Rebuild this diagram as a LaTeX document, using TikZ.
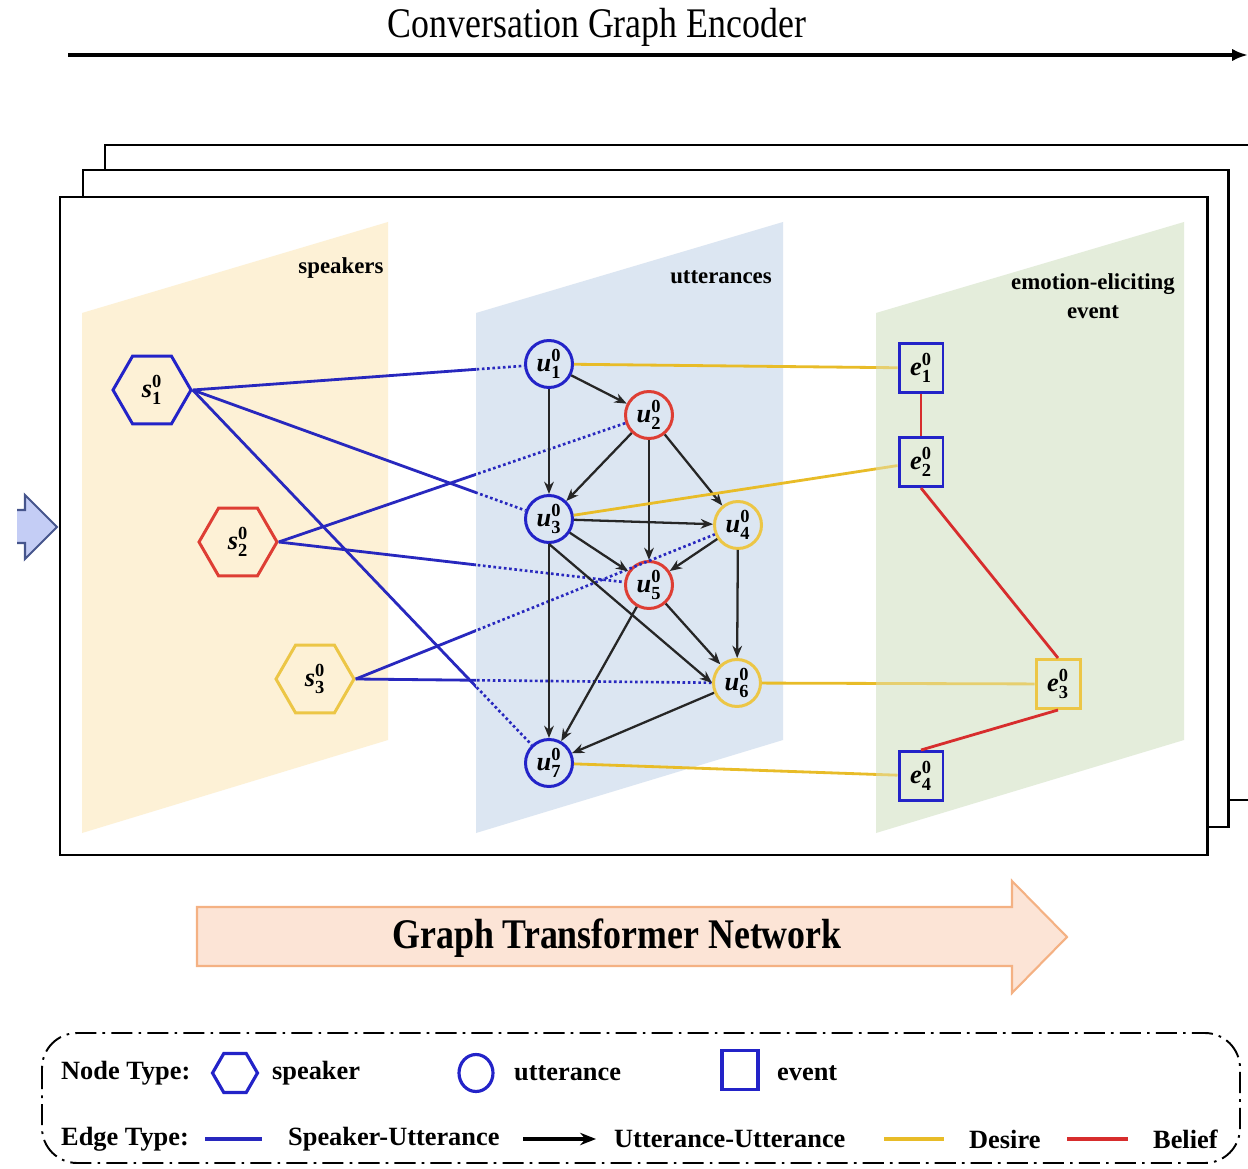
\documentclass[tikz,border=0pt]{standalone}
\usepackage{fontspec}
\setmainfont{Liberation Serif}
\usepackage{amsmath}
\usepackage{graphicx}
\usetikzlibrary{shapes.geometric,arrows.meta}

\definecolor{spkfill}{RGB}{253,241,214}
\definecolor{uttfill}{RGB}{220,230,242}
\definecolor{evtfill}{RGB}{228,237,219}
\definecolor{nblue}{RGB}{35,35,200}
\definecolor{nred}{RGB}{222,62,52}
\definecolor{nyellow}{RGB}{236,198,70}
\definecolor{suline}{RGB}{40,40,190}
\definecolor{desireline}{RGB}{232,188,40}
\definecolor{beliefline}{RGB}{215,45,45}
\definecolor{gtnfill}{RGB}{252,228,214}
\definecolor{gtndraw}{RGB}{244,177,131}
\definecolor{inarrowfill}{RGB}{196,205,245}
\definecolor{inarrowdraw}{RGB}{70,85,140}

% node label: bold italic letter with bold indices
\newcommand{\nodetxt}[2]{$\text{\bfseries\itshape #1}^{\text{\bfseries 0}}_{\text{\bfseries #2}}$}

\tikzset{
  frame/.style={draw=black, fill=white, line width=1.7pt},
  spk/.style={regular polygon, regular polygon sides=6, minimum size=1.56cm,
              inner sep=0pt, line width=1.7pt, draw, font=\fontsize{15}{17}\selectfont},
  utt/.style={circle, minimum size=0.94cm, inner sep=0pt, line width=1.7pt, draw,
              font=\fontsize{15}{17}\selectfont},
  evt/.style={rectangle, minimum width=0.88cm, minimum height=0.98cm, inner sep=0pt,
              line width=1.7pt, draw, font=\fontsize{15}{17}\selectfont},
  panellabel/.style={font=\fontsize{13}{16.5}\selectfont\bfseries, align=center},
  su/.style={suline, line width=1.6pt},
  sudot/.style={suline, line width=1.5pt, dash pattern=on 1.5pt off 1.5pt},
  uu/.style={black!85, line width=1.3pt, -{Stealth[length=7pt,width=5.5pt]}},
  desire/.style={desireline, line width=1.6pt},
  belief/.style={beliefline, line width=1.6pt},
  legtext/.style={anchor=west, font=\fontsize{15}{18}\selectfont\bfseries},
}

\begin{document}
\begin{tikzpicture}[x=0.02cm, y=-0.02cm]
\clip (0,0) rectangle (1248,1169);

% title arrow
\node[font=\fontsize{24}{28}\selectfont] (title) at (597,27)
  {\scalebox{0.85}[1]{Conversation Graph Encoder}};
\coordinate (ta) at (68,55);
\coordinate (tb) at (1248,55);
\draw[line width=1.8pt, -{Latex[length=9pt,width=7pt]}] (ta) -- (tb);

% stacked frames
\draw[frame] (105,145) rectangle (1262,800);
\draw[frame] (83,170) rectangle (1228,827);
\draw[frame] (60,197) rectangle (1207,855);

% incoming arrow on the left
\fill[inarrowfill] (17,510) -- (25,510) -- (25,495) -- (57,527) -- (25,559) -- (25,543) -- (17,543) -- cycle;
\draw[inarrowdraw, line width=1.2pt, line join=miter]
  (17,510) -- (25,510) -- (25,495) -- (57,527) -- (25,559) -- (25,543) -- (17,543);

% slanted panels
\fill[spkfill] (82,313) -- (388,222) -- (388,740) -- (82,833) -- cycle;
\fill[uttfill] (476,313) -- (783,222) -- (783,740) -- (476,833) -- cycle;
\fill[evtfill] (876,313) -- (1184,222) -- (1184,740) -- (876,833) -- cycle;

\node[panellabel] (lblspk) at (341,268) {speakers};
\node[panellabel] (lblutt) at (721,277) {utterances};
\node[panellabel] (lblevt) at (1093,296) {emotion-eliciting\\event};

% speakers
\node[spk, draw=nblue]   (s1) at (152,390) {\nodetxt{s}{1}};
\node[spk, draw=nred]    (s2) at (238,542) {\nodetxt{s}{2}};
\node[spk, draw=nyellow] (s3) at (315,679) {\nodetxt{s}{3}};

% utterances
\node[utt, draw=nblue]   (u1) at (549,364) {\nodetxt{u}{1}};
\node[utt, draw=nred]    (u2) at (649,415) {\nodetxt{u}{2}};
\node[utt, draw=nblue]   (u3) at (549,519) {\nodetxt{u}{3}};
\node[utt, draw=nyellow] (u4) at (738,525) {\nodetxt{u}{4}};
\node[utt, draw=nred]    (u5) at (649,585) {\nodetxt{u}{5}};
\node[utt, draw=nyellow] (u6) at (737,683) {\nodetxt{u}{6}};
\node[utt, draw=nblue]   (u7) at (549,763) {\nodetxt{u}{7}};

% events
\node[evt, draw=nblue]   (e1) at (921,368) {\nodetxt{e}{1}};
\node[evt, draw=nblue]   (e2) at (921,462) {\nodetxt{e}{2}};
\node[evt, draw=nyellow] (e3) at (1058,684) {\nodetxt{e}{3}};
\node[evt, draw=nblue]   (e4) at (921,776) {\nodetxt{e}{4}};

% speaker-utterance edges: solid outside the utterance plane, dotted behind it
\begin{scope}
  \clip (0,0) rectangle (476,1169);
  \foreach \a/\b in {s1/u1, s1/u3, s1/u7, s2/u2, s2/u5, s3/u4, s3/u6}
    \draw[su] (\a.east) -- (\b);
\end{scope}
\begin{scope}
  \clip (476,0) rectangle (1248,1169);
  \foreach \a/\b in {s1/u1, s1/u3, s1/u7, s2/u2, s2/u5, s3/u4, s3/u6}
    \draw[sudot] (\a.east) -- (\b);
\end{scope}

% utterance-utterance edges
\foreach \a/\b in {u1/u2, u1/u3, u2/u3, u2/u4, u2/u5, u3/u4, u3/u5, u3/u7,
                   u4/u5, u4/u6, u5/u6, u5/u7, u6/u7}
  \draw[uu] (\a) -- (\b);
\draw[uu] (u3.south) -- (u6.west);

% desire edges, paler inside the event plane
\begin{scope}
  \clip (0,0) rectangle (876,1169);
  \foreach \a/\b in {u1/e1, u3/e2, u6/e3, u7/e4}
    \draw[desire] (\a) -- (\b);
\end{scope}
\begin{scope}
  \clip (876,0) rectangle (1248,1169);
  \foreach \a/\b in {u1/e1, u3/e2, u6/e3, u7/e4}
    \draw[desire, draw opacity=0.6] (\a) -- (\b);
\end{scope}

% belief edges
\draw[belief] (e1.south) -- (e2.north);
\draw[belief] (e2.south) -- (e3.north);
\draw[belief] (e3.south) -- (e4.north);

% graph transformer network arrow
\draw[fill=gtnfill, draw=gtndraw, line width=1.2pt, line join=miter]
  (197,907) -- (1012,907) -- (1012,881) -- (1067,937) -- (1012,993) -- (1012,966) -- (197,966) -- cycle;
\node[font=\fontsize{24}{28}\selectfont\bfseries] (gtn) at (617,938)
  {\scalebox{0.85}[1]{Graph Transformer Network}};

% legend
\draw[line width=1.1pt, rounded corners=20pt,
      dash pattern=on 12pt off 3.5pt on 1.5pt off 3.5pt]
  (42,1033) rectangle (1240,1163);

\node[legtext] (ntype) at (55,1073) {Node Type:};
\node[spk, draw=nblue, minimum size=0.9cm, line width=1.8pt] (lspk) at (235,1073) {};
\node[legtext] (lspkt) at (266,1073) {speaker};
\node[ellipse, draw=nblue, line width=1.8pt, minimum width=0.68cm, minimum height=0.74cm,
      inner sep=0pt] (lutt) at (476,1073) {};
\node[legtext] (luttt) at (508,1073) {utterance};
\node[rectangle, draw=nblue, line width=1.8pt, minimum width=0.72cm, minimum height=0.78cm,
      inner sep=0pt] (levt) at (740,1070) {};
\node[legtext] (levtt) at (771,1073) {event};

\node[legtext] (etype) at (55,1139) {Edge Type:};
\coordinate (lsua) at (205,1139);
\coordinate (lsub) at (262,1139);
\draw[suline, line width=2.3pt] (lsua) -- (lsub);
\node[legtext] (lsut) at (282,1139) {Speaker-Utterance};
\coordinate (luua) at (523,1139);
\coordinate (luub) at (596,1139);
\draw[black, line width=2pt, -{Stealth[length=9pt,width=7pt]}] (luua) -- (luub);
\node[legtext] (luut) at (608,1139) {Utterance-Utterance};
\coordinate (lda) at (884,1139);
\coordinate (ldb) at (944,1139);
\draw[desireline, line width=2.3pt] (lda) -- (ldb);
\node[legtext] (ldt) at (963,1139) {Desire};
\coordinate (lba) at (1067,1139);
\coordinate (lbb) at (1128,1139);
\draw[beliefline, line width=2.3pt] (lba) -- (lbb);
\node[legtext] (lbt) at (1147,1139) {Belief};
\end{tikzpicture}
\end{document}
